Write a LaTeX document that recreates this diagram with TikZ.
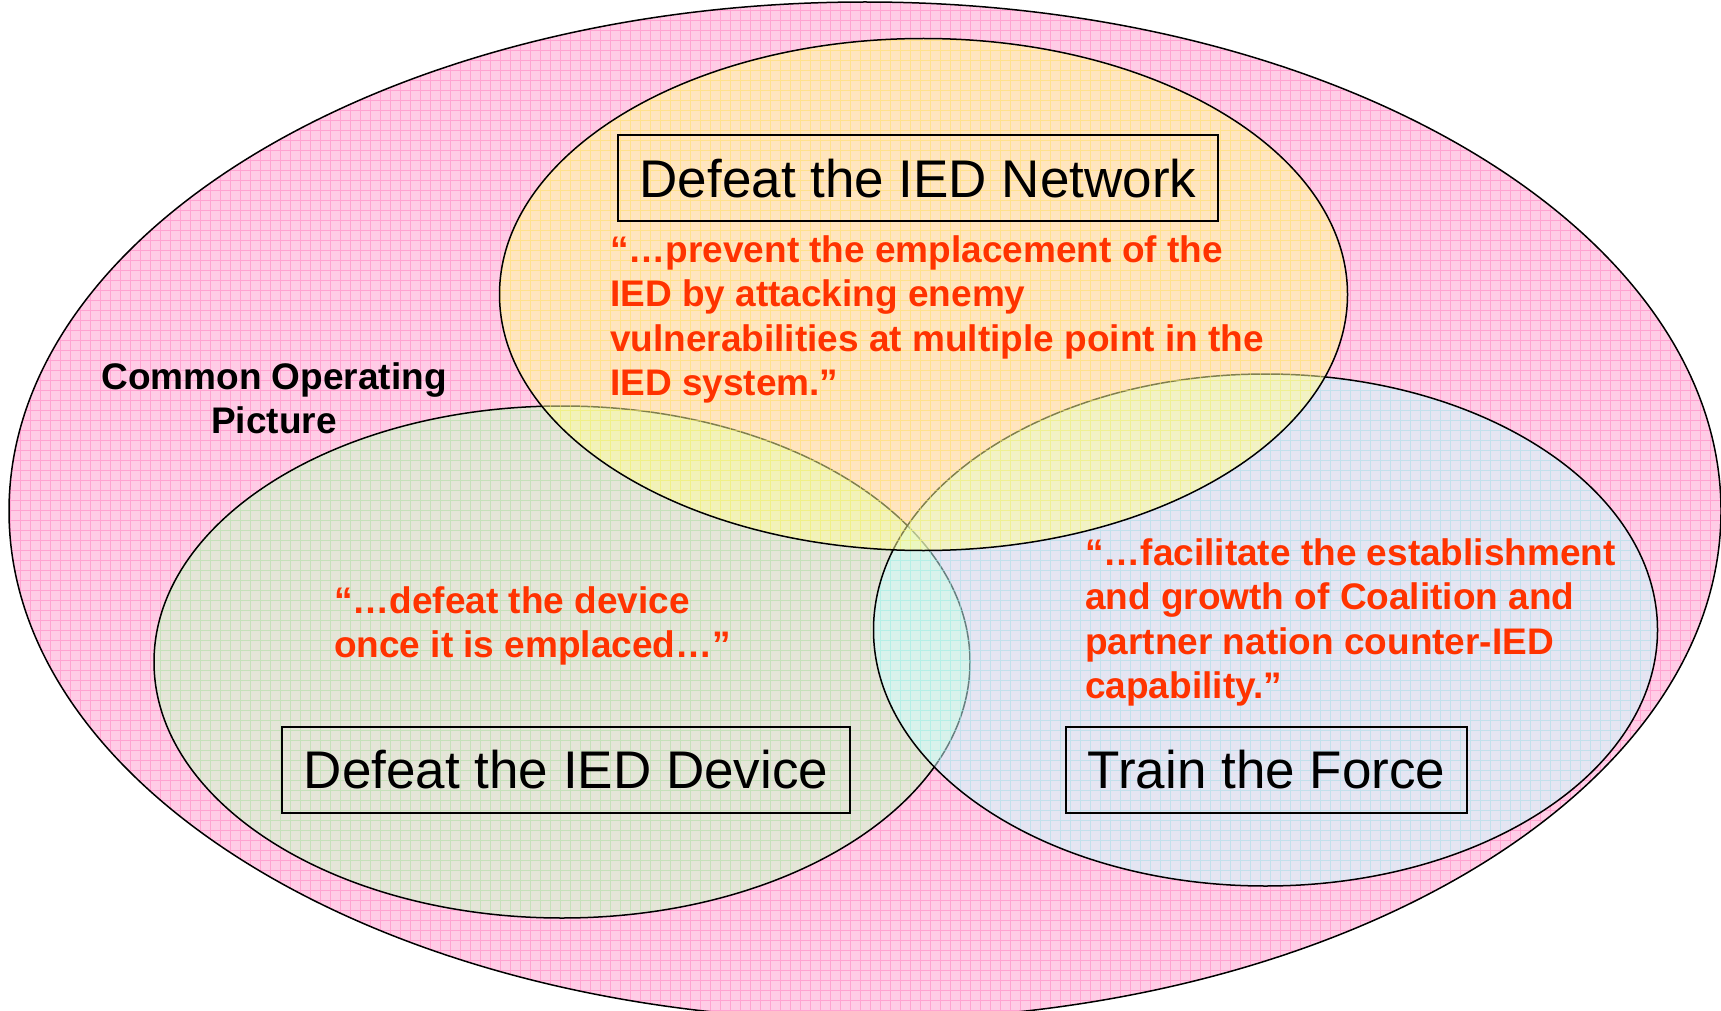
\documentclass[tikz,border=0pt]{standalone}
\usepackage{fontspec}
\setmainfont{Liberation Sans}
\definecolor{outerpink}{HTML}{FFCCE6}
\definecolor{outergrid}{HTML}{FFA3D1}
\definecolor{topfill}{HTML}{FFFF99}
\definecolor{topgrid}{HTML}{FFF266}
\definecolor{leftfill}{HTML}{CCFFCC}
\definecolor{leftgrid}{HTML}{A8F0A8}
\definecolor{rightfill}{HTML}{CCFFFF}
\definecolor{rightgrid}{HTML}{A0F0F0}
\definecolor{quotered}{HTML}{FF3300}
\begin{document}
\begin{tikzpicture}[x=1pt,y=-1pt,
  ring/.style={draw=black,line width=1.5pt},
  gridlines/.style={line width=0.9pt,step=10pt},
  titlebox/.style={draw=black,line width=2pt,fill=none,inner sep=0pt,
    minimum height=86pt,text height=38pt,text depth=0pt,
    font=\fontsize{53}{60}\selectfont},
  quote/.style={text=quotered,align=left,anchor=base west,inner sep=0pt,
    font=\bfseries\fontsize{37}{44.6}\selectfont},
  coplabel/.style={text=black,align=center,anchor=base,inner sep=0pt,
    font=\bfseries\fontsize{37}{44}\selectfont}]
\useasboundingbox (0,0) rectangle (1721,1011);
\fill[white] (0,0) rectangle (1721,1011);

% outer ellipse: Common Operating Picture
\begin{scope}
  \clip (865,511) ellipse [x radius=856pt,y radius=509pt];
  \fill[outerpink] (0,0) rectangle (1721,1011);
  \draw[outergrid,gridlines] (0,0) grid (1721,1011);
\end{scope}
\draw[ring] (865,511) ellipse [x radius=856pt,y radius=509pt];

% left ellipse: Defeat the IED Device
\begin{scope}
  \clip (562,662) ellipse [x radius=408pt,y radius=256pt];
  \fill[leftfill,opacity=.5] (0,0) rectangle (1721,1011);
  \draw[leftgrid,gridlines,opacity=.5] (0,0) grid (1721,1011);
\end{scope}
\draw[ring] (562,662) ellipse [x radius=408pt,y radius=256pt];

% right ellipse: Train the Force
\begin{scope}
  \clip (1265.5,630) ellipse [x radius=392pt,y radius=256pt];
  \fill[rightfill,opacity=.5] (0,0) rectangle (1721,1011);
  \draw[rightgrid,gridlines,opacity=.5] (0,0) grid (1721,1011);
\end{scope}
\draw[ring] (1265.5,630) ellipse [x radius=392pt,y radius=256pt];

% top ellipse: Defeat the IED Network
\begin{scope}
  \clip (923.5,294.5) ellipse [x radius=424pt,y radius=256pt];
  \fill[topfill,opacity=.5] (0,0) rectangle (1721,1011);
  \draw[topgrid,gridlines,opacity=.5] (0,0) grid (1721,1011);
\end{scope}
\draw[ring] (923.5,294.5) ellipse [x radius=424pt,y radius=256pt];

% titles
\node[titlebox,minimum width=600pt] (network) at (918,178) {Defeat the IED Network};
\node[titlebox,minimum width=568pt] (device) at (566,769.5) {Defeat the IED Device};
\node[titlebox,minimum width=401pt] (train) at (1266.5,769.5) {Train the Force};

% quotes (anchor = baseline of the last line)
\node[quote] (qnetwork) at (610,395.8) {“…prevent the emplacement of the\\IED by attacking enemy\\vulnerabilities at multiple point in the\\IED system.”};
\node[quote] (qdevice) at (334,657.6) {“…defeat the device\\once it is emplaced…”};
\node[quote] (qtrain) at (1085,698.8) {“…facilitate the establishment\\and growth of Coalition and\\partner nation counter-IED\\capability.”};

\node[coplabel] (cop) at (274,433) {Common Operating\\Picture};
\end{tikzpicture}
\end{document}
